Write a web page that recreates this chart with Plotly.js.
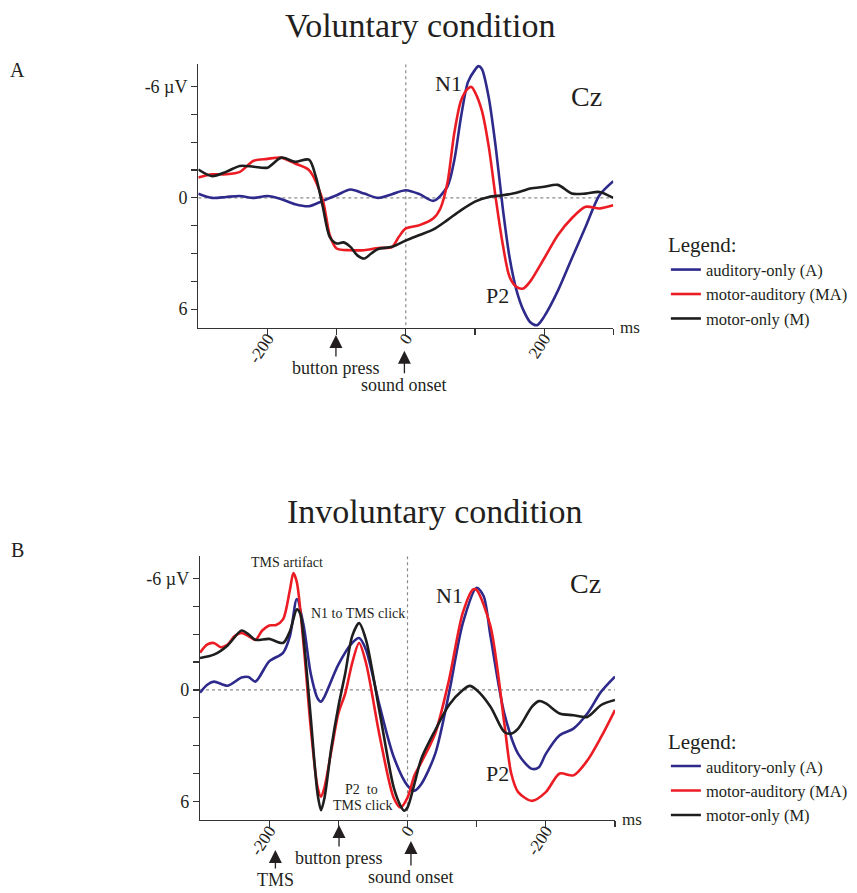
<!DOCTYPE html>
<html>
<head>
<meta charset="utf-8">
<script src="https://cdn.plot.ly/plotly-3.0.1.min.js"></script>
<style>html,body{margin:0;padding:0;background:#fff;}#chart{width:857px;height:893px;}</style>
</head>
<body>
<div id="chart"></div>
<script>
// ---------- Panel A: Voluntary condition ----------
const volA_x = [-300,-280,-260,-240,-220,-200,-180,-160,-140,-120,-100,-80,-60,-40,-20,0,20,40,60,70,80,90,100,105,110,120,130,140,150,160,170,180,190,200,220,240,260,280,300];
const volA_y = [-0.23,0,-0.05,-0.1,0,-0.1,0.07,0.34,0.45,0.16,-0.14,-0.45,-0.23,0,-0.2,-0.41,-0.2,0.16,-0.6,-2.0,-4.4,-6.25,-6.9,-7.1,-6.95,-5.4,-2.75,0.48,3.2,4.97,6.05,6.7,6.86,6.4,5.0,3.27,1.56,-0.14,-0.9];

const volMA_x = [-300,-280,-260,-240,-220,-200,-180,-160,-140,-120,-110,-100,-80,-60,-40,-20,-10,0,20,40,50,60,70,80,90,95,100,110,120,130,140,150,160,170,180,200,220,240,260,280,300];
const volMA_y = [-1.1,-1.27,-1.27,-1.4,-2.0,-2.1,-2.17,-1.85,-1.5,0.13,2.0,2.73,2.82,2.82,2.7,2.65,2.1,1.65,1.47,1.1,0.57,-0.77,-3.46,-5.26,-5.9,-5.98,-5.7,-4.7,-2.75,0,2.46,4.25,4.8,4.88,4.5,3.27,2.0,1.1,0.48,0.57,0.4];

const volM_x = [-300,-280,-260,-240,-220,-200,-180,-160,-140,-130,-120,-110,-100,-90,-80,-70,-60,-50,-40,-20,0,20,40,60,80,100,120,140,160,180,200,220,240,260,280,300];
const volM_y = [-1.53,-1.17,-1.4,-1.72,-1.68,-1.63,-2.17,-1.94,-2.06,-1.13,0.48,2.1,2.46,2.4,2.64,3.1,3.27,3.0,2.76,2.64,2.3,2.0,1.7,1.2,0.66,0.2,-0.05,-0.14,-0.27,-0.5,-0.6,-0.7,-0.23,-0.23,-0.32,0];

// ---------- Panel B: Involuntary condition ----------
const invA_x = [-300,-290,-280,-260,-240,-230,-220,-200,-180,-170,-160,-150,-140,-130,-125,-120,-100,-80,-70,-60,-40,-20,0,10,20,40,60,80,100,110,120,140,160,180,190,200,220,240,260,280,300];
const invA_y = [0.15,-0.27,-0.45,-0.23,-0.67,-0.7,-0.45,-1.54,-2.0,-2.9,-4.9,-3.43,-0.9,0.45,0.63,0.36,-1.36,-2.53,-2.8,-2.17,0.9,3.6,5.15,5.42,5.06,3.44,0.18,-3.6,-5.5,-5.06,-2.9,1.27,3.44,4.25,4.16,3.44,2.44,2.08,1.27,0.09,-0.72];

const invMA_x = [-300,-290,-280,-270,-260,-250,-240,-230,-220,-210,-200,-190,-180,-170,-165,-160,-150,-140,-130,-125,-120,-110,-100,-90,-80,-70,-60,-40,-20,-10,0,10,20,40,60,80,95,100,120,140,150,160,180,200,220,240,260,280,300];
const invMA_y = [-2.0,-2.44,-2.53,-2.3,-2.44,-2.9,-3.07,-2.9,-2.7,-3.2,-3.47,-3.5,-3.8,-5.4,-6.3,-5.8,-2.35,2.0,5.24,5.75,5.24,3.25,1.27,0.18,-1.45,-2.53,-1.45,2.53,5.8,6.33,5.8,4.6,3.9,2.35,-0.54,-4.16,-5.42,-5.38,-3.43,1.8,4.5,5.5,5.97,5.5,4.5,4.6,3.8,2.53,1.08];

const invM_x = [-300,-280,-260,-240,-230,-220,-200,-180,-170,-160,-155,-150,-140,-130,-125,-120,-110,-100,-90,-80,-70,-60,-40,-20,-10,-5,0,10,20,40,60,80,90,100,120,140,150,160,180,190,200,220,240,260,280,300];
const invM_y = [-1.72,-1.9,-2.4,-3.2,-3.0,-2.7,-2.75,-2.53,-3.16,-4.34,-4.1,-2.7,1.45,5.6,6.47,5.8,3.07,0.9,-0.9,-2.9,-3.6,-2.7,1.27,5.24,6.24,6.5,6.33,5.06,3.7,2.17,0.81,0,-0.22,0,0.9,2.26,2.35,2.08,0.9,0.6,0.72,1.27,1.36,1.45,0.81,0.54];

const seriesNames = ['auditory-only (A)', 'motor-auditory (MA)', 'motor-only (M)'];
const seriesColors = ['#2e2a8c', '#ec1c24', '#1e1e1e'];

const yTickVals = [-6,-4.5,-3,-1.5,0,1.5,3,4.5,6];
const yTickText = ['-6 µV','','','','0','','','','6'];
const xTickVals = [-200,-100,0,100,200,300];
const xTickTextA = ['-200','','0','','200',''];
const xTickTextB = ['-200','','0','','-200',''];

const FONT = 'Liberation Serif, Times New Roman, serif';
const TXT = '#231f20';

function tr(x, y, i, xa, ya, leg, showleg) {
  return {
    x: x, y: y, xaxis: xa, yaxis: ya, type: 'scatter', mode: 'lines',
    name: seriesNames[i], legend: leg, showlegend: showleg,
    line: {color: seriesColors[i], width: 2.6, shape: 'spline', smoothing: 0.8},
    hoverinfo: 'skip'
  };
}

const data = [
  tr(volA_x, volA_y, 0, 'x', 'y', 'legend', true),
  tr(volMA_x, volMA_y, 1, 'x', 'y', 'legend', true),
  tr(volM_x, volM_y, 2, 'x', 'y', 'legend', true),
  tr(invA_x, invA_y, 0, 'x2', 'y2', 'legend2', true),
  tr(invMA_x, invMA_y, 1, 'x2', 'y2', 'legend2', true),
  tr(invM_x, invM_y, 2, 'x2', 'y2', 'legend2', true)
];

function xax(domain, anchor, ticktext) {
  return {
    domain: domain, anchor: anchor, range: [-300, 300], showgrid: false, zeroline: false,
    showline: true, linecolor: '#333', linewidth: 1.2,
    ticks: 'outside', ticklen: 6, tickcolor: '#333', tickwidth: 1.2,
    tickmode: 'array', tickvals: xTickVals, ticktext: ticktext, tickangle: -57,
    ticklabelstandoff: -13,
    tickfont: {family: FONT, size: 17, color: TXT}
  };
}
function yax(domain, anchor) {
  return {
    domain: domain, anchor: anchor, range: [7, -7.2], showgrid: false, zeroline: false,
    showline: true, linecolor: '#333', linewidth: 1.2,
    ticks: 'outside', ticklen: 6, tickcolor: '#333', tickwidth: 1.2,
    tickmode: 'array', tickvals: yTickVals, ticktext: yTickText,
    tickfont: {family: FONT, size: 18, color: TXT}
  };
}

function dotted(xref, yref) {
  return [
    {type: 'line', xref: xref, yref: yref, x0: -300, x1: 300, y0: 0, y1: 0, line: {color: '#8a8a8a', width: 1.2, dash: 'dot'}, layer: 'below'},
    {type: 'line', xref: xref, yref: yref, x0: 0, x1: 0, y0: -7.2, y1: 7, line: {color: '#8a8a8a', width: 1.2, dash: 'dot'}, layer: 'below'}
  ];
}

function txt(text, x, y, xref, yref, size, extra) {
  return Object.assign({text: text, x: x, y: y, xref: xref, yref: yref, showarrow: false,
    xanchor: 'center', yanchor: 'middle',
    font: {family: FONT, size: size, color: TXT}}, extra || {});
}
function arrowTxt(text, x, xref, ytip, ay) {
  return {text: text, x: x, y: ytip, xref: xref, yref: 'paper', showarrow: true, ax: 0, ay: ay,
    arrowhead: 2, arrowsize: 2, arrowwidth: 1.3, arrowcolor: '#231f20', standoff: 0,
    font: {family: FONT, size: 18, color: TXT}};
}

const annotations = [
  txt('Voluntary condition', 0.49, 0.972, 'paper', 'paper', 34),
  txt('Involuntary condition', 0.508, 0.427, 'paper', 'paper', 34),
  txt('A', 0.021, 0.922, 'paper', 'paper', 20),
  txt('B', 0.021, 0.384, 'paper', 'paper', 20),
  // panel A
  txt('N1', 62, -6.17, 'x', 'y', 22),
  txt('Cz', 261, -5.44, 'x', 'y', 28),
  txt('P2', 133, 5.25, 'x', 'y', 22),
  txt('ms', 0.721, 0.633, 'paper', 'paper', 17, {xanchor: 'left'}),
  arrowTxt('button press', -101, 'x', 0.6249, 33),
  arrowTxt('sound onset', -2, 'x', 0.6073, 34),
  // panel B
  txt('TMS artifact', -174, -6.84, 'x2', 'y2', 14),
  txt('N1 to TMS click', -72, -4.14, 'x2', 'y2', 14),
  txt('P2  to', -67, 5.38, 'x2', 'y2', 14),
  txt('TMS click', -65, 6.24, 'x2', 'y2', 14),
  txt('N1', 60, -5.1, 'x2', 'y2', 22),
  txt('Cz', 258, -5.74, 'x2', 'y2', 28),
  txt('P2', 130, 4.48, 'x2', 'y2', 22),
  txt('ms', 0.723, 0.0818, 'paper', 'paper', 17, {xanchor: 'left'}),
  arrowTxt('TMS', -191, 'x2', 0.04815, 30),
  arrowTxt('button press', -99, 'x2', 0.07615, 33),
  arrowTxt('sound onset', 5, 'x2', 0.05823, 36)
];

function legendCfg(y) {
  return {
    x: 0.777, y: y, xanchor: 'left', yanchor: 'top', bgcolor: 'rgba(0,0,0,0)',
    title: {text: 'Legend:', font: {family: FONT, size: 21, color: TXT}},
    font: {family: FONT, size: 16.5, color: TXT}, itemwidth: 30, tracegroupgap: 0
  };
}

const layout = {
  width: 857, height: 893,
  margin: {l: 0, r: 0, t: 0, b: 0},
  paper_bgcolor: '#ffffff', plot_bgcolor: 'rgba(0,0,0,0)',
  showlegend: true,
  xaxis: xax([0.2314, 0.7156], 'y', xTickTextA),
  yaxis: yax([0.633, 0.928], 'x'),
  xaxis2: xax([0.2334, 0.7176], 'y2', xTickTextB),
  yaxis2: yax([0.0818, 0.3771], 'x2'),
  legend: legendCfg(0.748),
  legend2: legendCfg(0.192),
  shapes: dotted('x', 'y').concat(dotted('x2', 'y2')),
  annotations: annotations
};

Plotly.newPlot('chart', data, layout, {staticPlot: true, displayModeBar: false});
</script>
</body>
</html>
